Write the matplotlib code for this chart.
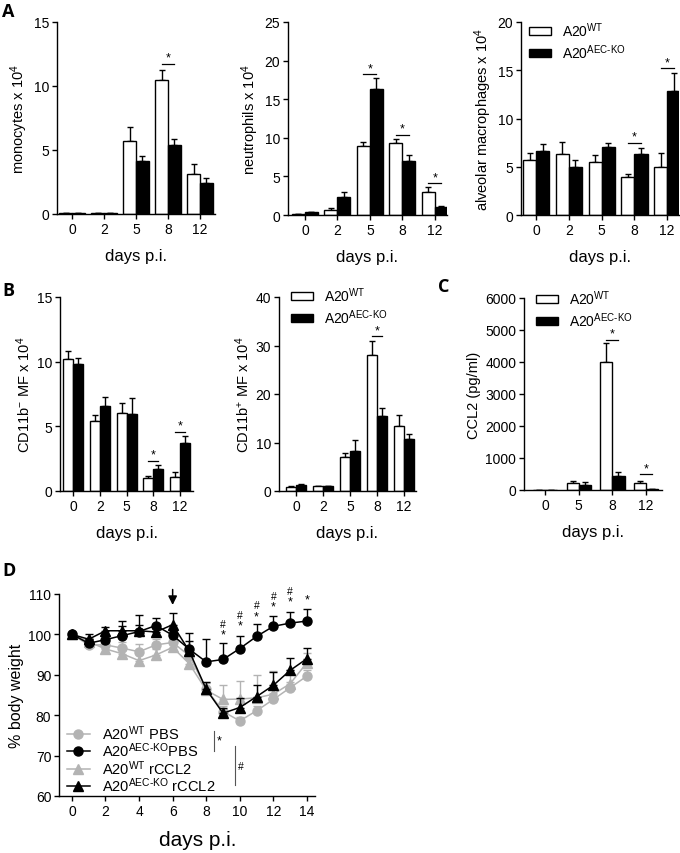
import numpy as np
import matplotlib.pyplot as plt
from matplotlib.lines import Line2D

plt.rcParams['font.family'] = ['Liberation Sans', 'DejaVu Sans']
plt.rcParams['mathtext.fontset'] = 'custom'
plt.rcParams['mathtext.rm'] = 'Liberation Sans'
plt.rcParams['mathtext.it'] = 'Liberation Sans:italic'
plt.rcParams['mathtext.bf'] = 'Liberation Sans:bold'
plt.rcParams['axes.linewidth'] = 1.0

# ---- panel A / B / C data (WT vs AEC-KO, mean and upper SEM) ----
days_5 = ['0', '2', '5', '8', '12']
days_4 = ['0', '5', '8', '12']

mono_wt = [0.05, 0.05, 5.73, 10.48, 3.13]
mono_wt_err = [0, 0, 1.09, 0.78, 0.80]
mono_ko = [0.05, 0.05, 4.17, 5.42, 2.42]
mono_ko_err = [0, 0, 0.40, 0.44, 0.39]
mono_sig = [(3, 11.75)]

neut_wt = [0.10, 0.65, 8.9, 9.34, 2.94]
neut_wt_err = [0.05, 0.20, 0.50, 0.50, 0.65]
neut_ko = [0.35, 2.30, 16.26, 7.0, 1.08]
neut_ko_err = [0.10, 0.70, 1.50, 0.80, 0.12]
neut_sig = [(2, 18.2), (3, 10.4), (4, 4.1)]

am_wt = [5.71, 6.33, 5.47, 3.98, 4.95]
am_wt_err = [0.73, 1.20, 0.76, 0.28, 1.45]
am_ko = [6.68, 5.02, 7.09, 6.33, 12.84]
am_ko_err = [0.66, 0.70, 0.38, 0.60, 1.86]
am_sig = [(3, 7.47), (4, 15.2)]

cd11bneg_wt = [10.18, 5.45, 6.03, 1.04, 1.09]
cd11bneg_wt_err = [0.65, 0.39, 0.78, 0.13, 0.39]
cd11bneg_ko = [9.79, 6.57, 5.97, 1.69, 3.71]
cd11bneg_ko_err = [0.47, 0.70, 1.22, 0.34, 0.52]
cd11bneg_sig = [(3, 2.34), (4, 4.6)]

cd11bpos_wt = [0.90, 1.03, 7.03, 28.07, 13.31]
cd11bpos_wt_err = [0.15, 0.10, 0.90, 2.83, 2.35]
cd11bpos_ko = [1.17, 0.97, 8.28, 15.52, 10.69]
cd11bpos_ko_err = [0.20, 0.10, 2.27, 1.58, 1.03]
cd11bpos_sig = [(3, 31.9)]

ccl2_wt = [0, 229, 3992, 208]
ccl2_wt_err = [0, 50, 600, 60]
ccl2_ko = [0, 156, 437, 20]
ccl2_ko_err = [0, 100, 125, 10]
ccl2_sig = [(2, 4700), (3, 490)]

# ---- panel D data (body weight) ----
bw_days = np.arange(0, 15)
wt_pbs = [100, 97.4, 97.4, 96.6, 95.7, 97.4, 98.0, 94.7, 86.5, 80.9, 78.6, 81.1, 83.9, 86.8, 89.7]
wt_pbs_err = [0, 0.8, 1.2, 1.5, 2.0, 1.5, 1.2, 1.5, 1.5, 1.5, 1.0, 1.2, 1.5, 1.5, 1.5]
ko_pbs = [100, 97.8, 98.7, 99.7, 100.7, 102.2, 99.8, 96.3, 93.2, 93.8, 96.5, 99.5, 102.0, 102.8, 103.3]
ko_pbs_err = [0, 1.0, 1.3, 3.7, 4.2, 1.8, 1.0, 4.0, 5.6, 4.0, 3.1, 3.0, 2.6, 2.8, 3.0]
wt_ccl2 = [100, 98.2, 96.4, 95.2, 93.5, 94.9, 96.8, 92.7, 86.2, 83.9, 84.0, 84.3, 85.2, 87.8, 93.0]
wt_ccl2_err = [0, 1.0, 1.0, 1.5, 2.0, 1.5, 1.5, 1.5, 2.0, 3.5, 4.4, 5.6, 5.8, 3.5, 2.5]
ko_ccl2 = [100, 98.8, 100.9, 100.9, 100.9, 100.6, 102.4, 95.8, 86.4, 80.5, 81.9, 84.6, 87.4, 91.1, 94.0]
ko_ccl2_err = [0, 1.3, 1.0, 1.3, 1.5, 1.2, 3.0, 2.6, 1.7, 1.3, 2.4, 2.9, 3.4, 3.0, 2.6]
bw_star = [(9, 99.9), (10, 102.3), (11, 104.5), (12, 106.9), (13, 108.1), (14, 108.6)]
bw_hash = [(9, 102.6), (10, 104.9), (11, 107.3), (12, 109.6), (13, 110.8)]

GREY = '#b3b3b3'
WT_LAB = r'A20$^{\mathrm{WT}}$'
KO_LAB = 'A20$^{\\mathrm{AEC\u2010KO}}$'

fig = plt.figure(figsize=(6.8, 8.54), dpi=100)


def px_axes(l, t, r, b):
    return fig.add_axes([l / 680, 1 - b / 854, (r - l) / 680, (b - t) / 854])


def style(ax):
    for s in ['top', 'right']:
        ax.spines[s].set_visible(False)
    ax.tick_params(direction='out', length=3.5, width=1, labelsize=10, pad=2)


def bar_panel(ax, cats, wt, wt_err, ko, ko_err, sig, ylim, yticks, ylabel, xlim, w):
    x = np.arange(len(cats))
    ax.bar(x - w / 2, wt, w, color='white', edgecolor='black', linewidth=1, label=WT_LAB, zorder=2)
    ax.bar(x + w / 2, ko, w, color='black', edgecolor='black', linewidth=1, label=KO_LAB, zorder=2)
    z = np.zeros(len(cats))
    ax.errorbar(x - w / 2, wt, yerr=[z, wt_err], fmt='none', ecolor='black',
                elinewidth=1, capsize=2.5, capthick=1, zorder=1)
    ax.errorbar(x + w / 2, ko, yerr=[z, ko_err], fmt='none', ecolor='black',
                elinewidth=1, capsize=2.5, capthick=1, zorder=1)
    for i, y in sig:
        ax.plot([i - w / 2, i + w / 2], [y, y], color='black', lw=0.9)
        ax.annotate('*', (i, y), xytext=(0, 0), textcoords='offset points',
                    ha='center', va='bottom', fontsize=9)
    style(ax)
    ax.set_xticks(x)
    ax.set_xticklabels(cats)
    ax.set_xlim(*xlim)
    ax.set_ylim(*ylim)
    ax.set_yticks(yticks)
    ax.set_ylabel(ylabel, fontsize=10.5, labelpad=3)
    ax.set_xlabel('days p.i.', fontsize=12, labelpad=9)


def bar_legend(ax, x, y):
    ax.legend(loc='upper left', bbox_to_anchor=(x, y), frameon=False, fontsize=10,
              handlelength=1.6, handleheight=0.55, handletextpad=0.8,
              labelspacing=0.25, borderpad=0, borderaxespad=0)


axA1 = px_axes(57, 23, 215, 215)
bar_panel(axA1, days_5, mono_wt, mono_wt_err, mono_ko, mono_ko_err, mono_sig,
          (0, 15), [0, 5, 10, 15], r'monocytes x 10$^4$', (-0.47, 4.47), 0.4)

axA2 = px_axes(288, 23, 447, 216)
bar_panel(axA2, days_5, neut_wt, neut_wt_err, neut_ko, neut_ko_err, neut_sig,
          (0, 25), [0, 5, 10, 15, 20, 25], r'neutrophils x 10$^4$', (-0.52, 4.37), 0.4)

axA3 = px_axes(521, 23, 679, 216)
bar_panel(axA3, days_5, am_wt, am_wt_err, am_ko, am_ko_err, am_sig,
          (0, 20), [0, 5, 10, 15, 20], r'alveolar macrophages x 10$^4$', (-0.46, 4.36), 0.4)
bar_legend(axA3, 0.05, 1.01)

axB1 = px_axes(60, 298, 193, 492)
bar_panel(axB1, days_5, cd11bneg_wt, cd11bneg_wt_err, cd11bneg_ko, cd11bneg_ko_err, cd11bneg_sig,
          (0, 15), [0, 5, 10, 15], r'CD11b$^{-}$ MF x 10$^4$', (-0.49, 4.48), 0.37)

axB2 = px_axes(279, 298, 416, 492)
bar_panel(axB2, days_5, cd11bpos_wt, cd11bpos_wt_err, cd11bpos_ko, cd11bpos_ko_err, cd11bpos_sig,
          (0, 40), [0, 10, 20, 30, 40], r'CD11b$^{+}$ MF x 10$^4$', (-0.63, 4.44), 0.37)
bar_legend(axB2, 0.088, 1.06)

axC = px_axes(524, 299, 662, 491)
bar_panel(axC, days_4, ccl2_wt, ccl2_wt_err, ccl2_ko, ccl2_ko_err, ccl2_sig,
          (0, 6000), [0, 1000, 2000, 3000, 4000, 5000, 6000], 'CCL2 (pg/ml)', (-0.62, 3.47), 0.36)
bar_legend(axC, 0.087, 1.05)

# ---- panel D ----
axD = px_axes(59, 595, 315, 797)
z = np.zeros(len(bw_days))
series = [
    (wt_pbs, wt_pbs_err, 'o', GREY, WT_LAB + ' PBS'),
    (ko_pbs, ko_pbs_err, 'o', 'black', KO_LAB + 'PBS'),
    (wt_ccl2, wt_ccl2_err, '^', GREY, WT_LAB + ' rCCL2'),
    (ko_ccl2, ko_ccl2_err, '^', 'black', KO_LAB + ' rCCL2'),
]
handles = []
for order, (vals, err, mk, col, lab) in zip([2, 4, 1, 3], series):
    axD.errorbar(bw_days, vals, yerr=[z, err], fmt='-' + mk, color=col, ecolor=col,
                 markersize=6.5, lw=1.1, elinewidth=1, capsize=3, capthick=1, zorder=order)
    handles.append(Line2D([], [], color=col, marker=mk, markersize=6.5, lw=1.1, label=lab))
for d, y in bw_star:
    axD.text(d, y, '*', ha='center', va='center', fontsize=9)
for d, y in bw_hash:
    axD.text(d, y, '#', ha='center', va='center', fontsize=7.5)
axD.annotate('', xy=(6, 106.6), xytext=(6, 111.8),
             arrowprops=dict(arrowstyle='-|>', color='black', lw=1.1, mutation_scale=13),
             annotation_clip=False)
style(axD)
axD.set_xlim(-0.77, 14.48)
axD.set_ylim(60, 110)
axD.set_xticks(np.arange(0, 15, 2))
axD.set_yticks(np.arange(60, 111, 10))
axD.set_ylabel('% body weight', fontsize=11.5, labelpad=3)
axD.set_xlabel('days p.i.', fontsize=15)
axD.xaxis.set_label_coords(0.543, -0.17)
axD.legend(handles=handles, loc='upper left', bbox_to_anchor=(0.03, 0.36), frameon=False,
           fontsize=10.5, handlelength=1.6, handletextpad=0.8, labelspacing=-0.08,
           borderpad=0, borderaxespad=0, numpoints=1)
# significance brackets beside the legend
axD.plot([8.45, 8.45], [71.2, 76.2], color='#555555', lw=0.8, clip_on=False)
axD.text(8.8, 73.7, '*', ha='center', va='center', fontsize=9)
axD.plot([9.7, 9.7], [62.6, 72.5], color='#555555', lw=0.8, clip_on=False)
axD.text(10.05, 67.5, '#', ha='center', va='center', fontsize=7.5)

for lab, x, y in [('A', 2, 3), ('B', 2, 282), ('C', 438, 278), ('D', 2, 562)]:
    fig.text(x / 680, 1 - y / 854, lab, fontsize=13, fontweight='bold',
             family='Open Sans', ha='left', va='top')

fig.savefig('out.png', dpi=100)
